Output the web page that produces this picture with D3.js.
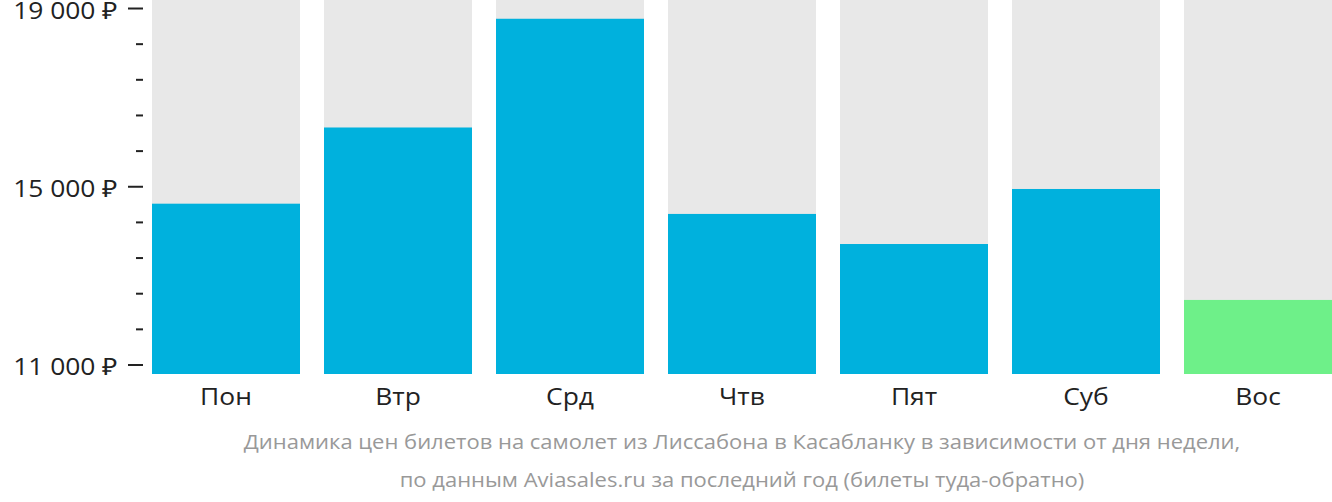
<!DOCTYPE html>
<html><head><meta charset="utf-8">
<script src="https://cdn.jsdelivr.net/npm/d3@7"></script>
<style>
html,body{margin:0;padding:0;background:#fff;}
svg{display:block;font-family:"Open Sans",sans-serif;}
</style></head>
<body>
<svg id="chart" width="1332" height="502"></svg>
<script>
const days = ["Пон","Втр","Срд","Чтв","Пят","Суб","Вос"];
const prices = [14620, 16330, 18770, 14390, 13715, 14950, 12460];
const cheapestIndex = 6;
const tickValues = [11000,11800,12600,13400,14200,15000,15800,16600,17400,18200,19000];
const labeledTicks = [11000,15000,19000];
const captionLines = [
  "Динамика цен билетов на самолет из Лиссабона в Касабланку в зависимости от дня недели,",
  "по данным Aviasales.ru за последний год (билеты туда-обратно)"
];

const svg = d3.select("#chart");
const y = d3.scaleLinear().domain([10798, 19191]).range([374, 0]);
const x = d3.scaleBand().domain(days).range([152, 1332]).paddingInner(24/172).paddingOuter(0);
const SX = 1.1;

// background columns
svg.selectAll("rect.bg").data(days).enter().append("rect")
  .attr("class","bg")
  .attr("x", d => x(d)).attr("width", x.bandwidth())
  .attr("y", y(y.domain()[1])).attr("height", y(y.domain()[0]) - y(y.domain()[1]))
  .attr("fill", "#e8e8e8");

// bars
svg.selectAll("rect.bar").data(prices).enter().append("rect")
  .attr("class","bar")
  .attr("x", (d,i) => x(days[i])).attr("width", x.bandwidth())
  .attr("y", d => y(d)).attr("height", d => y(y.domain()[0]) - y(d))
  .attr("fill", (d,i) => i === cheapestIndex ? "#6ef089" : "#00b1dd");

// y ticks
const fmt = v => d3.format(",")(v).replace(/,/g, " ") + " ₽";
const tg = svg.append("g");
tg.selectAll("line").data(tickValues).enter().append("line")
  .attr("x1", d => labeledTicks.includes(d) ? 128 : 136)
  .attr("x2", 143)
  .attr("y1", d => y(d)).attr("y2", d => y(d))
  .attr("stroke", "#222").attr("stroke-width", 2);
tg.selectAll("text").data(labeledTicks).enter().append("text")
  .attr("transform", d => `translate(118,${y(d) + 2}) scale(${SX},1)`)
  .attr("dy", "0.35em")
  .attr("text-anchor", "end").attr("font-size", 24).attr("fill", "#222")
  .text(fmt);

// x labels
svg.selectAll("text.xl").data(days).enter().append("text")
  .attr("class","xl")
  .attr("transform", d => `translate(${x(d) + x.bandwidth()/2},405) scale(${SX},1)`)
  .attr("text-anchor","middle").attr("font-size", 24).attr("fill", "#222")
  .text(d => d);

// caption
svg.selectAll("text.cap").data(captionLines).enter().append("text")
  .attr("class","cap")
  .attr("transform", (d,i) => `translate(742,${449 + i*38}) scale(1.1,1)`)
  .attr("text-anchor","middle").attr("font-size", 20).attr("fill", "#999")
  .text(d => d);
</script>
</body></html>
